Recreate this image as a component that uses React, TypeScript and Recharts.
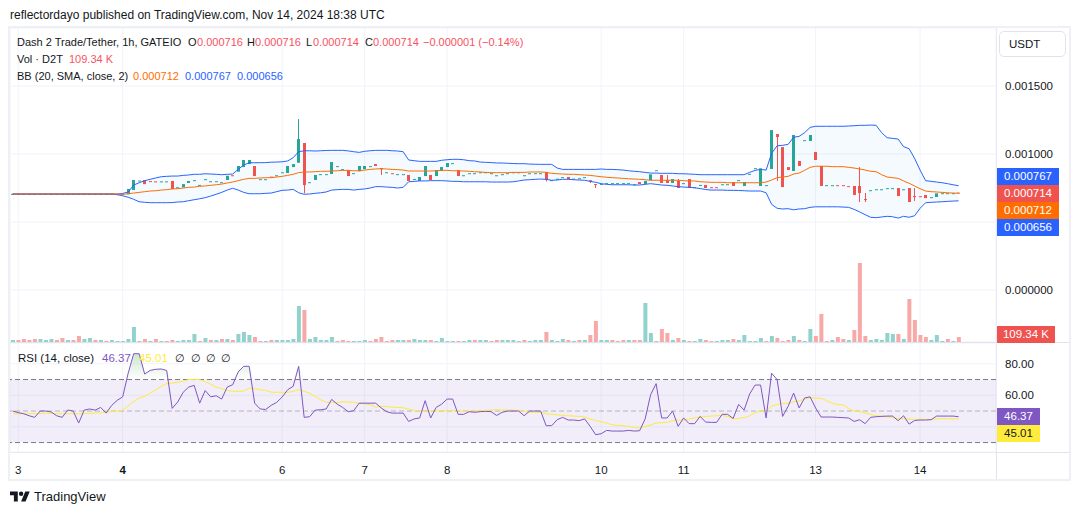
import {
  ComposedChart, Bar, Line, Area, Cell, XAxis, YAxis, CartesianGrid, ReferenceArea, ReferenceLine,
} from 'recharts';

// prices are kept in millionths of a USDT
const opens = [
  706, 707, 706, 705, 706, 706, 707, 706, 706, 705, 706, 706, 707, 706, 705, 706, 706, 707, 706, 706, 706,
  704, 735, 803, 809, 801, 799, 797, 797, 802, 754,
  755, 787, 806, 771, 813, 798, 798, 791, 809, 844,
  870, 904, 926, 912, 813, 813, 834, 842, 864, 860,
  904, 936, 1081, 791, 809, 850, 850, 853, 909, 887,
  882, 857, 873, 888, 909, 926, 897, 864, 859, 850,
  850, 846, 815, 802, 838, 846, 838, 875, 904, 931,
  882, 842, 857, 857, 864, 864, 857, 842, 850, 857,
  864, 864, 842, 857, 857, 857, 868, 806, 817, 828,
  831, 817, 820, 828, 807, 779, 778, 784, 784, 784,
  784, 784, 776, 794, 779, 807, 879, 846, 809, 787,
  802, 784, 816, 754, 771, 772, 756, 756, 776, 776,
  794, 806, 765, 852, 894, 765, 769, 890, 1147, 1051,
  904, 875, 949, 1100, 1096, 1015, 912, 769, 769, 771,
  771, 764, 765, 765, 669, 732, 739, 739, 747, 747,
  750, 739, 750, 691, 690, 699, 681, 684, 710, 710, 710, 716,
];
const closes = [
  707, 706, 705, 706, 706, 707, 706, 706, 705, 706, 706, 707, 706, 705, 706, 706, 707, 706, 706, 706, 708,
  743, 809, 805, 779, 799, 797, 799, 799, 743, 756,
  779, 802, 808, 773, 815, 800, 800, 793, 840, 842,
  912, 956, 956, 838, 815, 815, 832, 844, 866, 912,
  926, 1110, 772, 793, 846, 852, 852, 941, 911, 889,
  838, 859, 912, 912, 911, 912, 888, 866, 857, 852,
  852, 802, 817, 831, 912, 809, 882, 904, 934, 933,
  838, 844, 859, 859, 866, 866, 859, 844, 852, 859,
  866, 866, 844, 859, 859, 859, 809, 808, 819, 830,
  816, 819, 822, 830, 796, 772, 780, 786, 786, 786,
  786, 786, 778, 779, 802, 851, 881, 787, 787, 816,
  750, 786, 750, 756, 773, 750, 754, 754, 778, 778,
  765, 808, 794, 854, 896, 895, 771, 1176, 1125, 757,
  882, 1140, 912, 1102, 1140, 956, 765, 771, 771, 769,
  769, 762, 699, 713, 662, 734, 741, 741, 749, 749,
  691, 741, 647, 684, 688, 676, 683, 711, 712, 712, 712, 714,
];
// only the candles that have a wick beyond their body
const upperWicks: Record<number, number> = { 52: 1257, 119: 846, 121: 816, 154: 904, 155: 713, 164: 750 };
const lowerWicks: Record<number, number> = { 53: 711, 67: 846, 97: 799, 105: 787, 106: 750, 139: 802, 154: 647, 155: 647, 164: 654 };

const bbUpper = [
  706, 706, 706, 706, 706, 706, 706, 706, 706, 706, 706, 706, 706, 706, 706, 706, 706, 706, 706, 706,
  710, 721, 772, 789, 804, 814, 824, 833, 836, 838,
  838, 843, 846, 851, 851, 855, 853, 851, 848, 851,
  853, 887, 919, 936, 936, 936, 937, 940, 941, 943,
  949, 973, 1017, 1024, 1024, 1022, 1024, 1026, 1027, 1027,
  1027, 1023, 1017, 1012, 1020, 1024, 1027, 1027, 1027, 1024,
  1022, 1017, 956, 951, 946, 946, 946, 946, 954, 958,
  961, 961, 958, 951, 949, 941, 939, 937, 934, 934,
  932, 930, 929, 929, 926, 925, 924, 924, 924, 897,
  887, 887, 887, 887, 887, 887, 887, 890, 887, 887,
  885, 882, 877, 873, 870, 865, 860, 860, 858, 858,
  858, 855, 855, 853, 851, 848, 848, 848, 848, 848,
  848, 848, 848, 848, 865, 880, 887, 882, 1005, 1061,
  1064, 1071, 1123, 1130, 1157, 1196, 1204, 1204, 1204, 1204,
  1204, 1204, 1206, 1208, 1211, 1211, 1213, 1211, 1157, 1120,
  1115, 1110, 1054, 1039, 968, 882, 804, 799, 794, 789,
  782, 774, 767,
];
const bbBasis = [
  706, 706, 706, 706, 706, 706, 706, 706, 706, 706, 706, 706, 706, 706, 706, 706, 706, 706, 706, 706,
  704, 708, 713, 718, 723, 728, 730, 735, 738, 743,
  745, 750, 755, 757, 763, 765, 770, 774, 779, 787,
  794, 804, 814, 821, 821, 824, 826, 826, 831, 836,
  843, 851, 863, 868, 868, 870, 873, 873, 875, 877,
  880, 880, 877, 877, 882, 887, 890, 892, 890, 887,
  885, 882, 875, 875, 875, 875, 875, 877, 880, 880,
  877, 877, 875, 873, 870, 868, 865, 863, 863, 863,
  863, 865, 865, 865, 868, 868, 868, 865, 858, 855,
  853, 851, 851, 848, 846, 843, 838, 833, 829, 826,
  824, 821, 818, 816, 814, 811, 807, 807, 807, 807,
  807, 807, 804, 802, 802, 796, 794, 792, 792, 792,
  789, 789, 789, 789, 789, 789, 789, 794, 809, 826,
  831, 836, 853, 860, 880, 902, 910, 910, 910, 907,
  907, 907, 902, 897, 890, 882, 873, 870, 848, 831,
  826, 821, 802, 785, 765, 745, 728, 723, 721, 718,
  715, 713, 712,
];
const bbLower = [
  706, 706, 706, 706, 706, 706, 706, 706, 706, 706, 706, 706, 706, 706, 706, 706, 706, 706, 706, 701,
  693, 682, 667, 649, 645, 642, 642, 642, 642, 643,
  647, 649, 657, 664, 671, 679, 691, 704, 718, 735,
  748, 735, 718, 708, 708, 708, 711, 713, 723, 733,
  735, 740, 715, 704, 706, 711, 715, 721, 735, 738,
  740, 740, 735, 740, 743, 750, 760, 760, 757, 755,
  750, 755, 796, 799, 802, 802, 804, 804, 804, 802,
  799, 799, 796, 796, 796, 796, 796, 794, 794, 794,
  794, 796, 802, 809, 811, 814, 816, 814, 807, 809,
  814, 814, 811, 809, 807, 799, 792, 782, 777, 774,
  774, 774, 774, 772, 772, 777, 782, 777, 772, 770,
  765, 760, 757, 755, 752, 746, 739, 735, 735, 735,
  733, 733, 732, 730, 728, 728, 728, 715, 630, 601,
  596, 598, 590, 596, 598, 608, 612, 612, 612, 612,
  612, 610, 608, 593, 574, 554, 535, 532, 537, 542,
  539, 529, 542, 535, 546, 601, 642, 645, 647, 649,
  652, 654, 656,
];

// thousands of D2T
const volumes = [
  44, 44, 66, 44, 66, 66, 44, 66, 44, 88, 44, 44, 132, 66, 88, 44, 44, 22, 44, 22,
  22, 66, 330, 22, 66, 22, 66, 22, 22, 44, 22, 44, 44, 176, 22, 88, 44, 44, 66, 66,
  44, 176, 220, 154, 110, 22, 22, 44, 44, 44, 44, 66, 792, 704, 66, 110, 44, 44, 110, 22,
  44, 22, 22, 22, 44, 22, 66, 110, 22, 44, 44, 44, 44, 66, 44, 44, 44, 22, 88, 22,
  22, 22, 22, 44, 44, 44, 44, 22, 44,
  44, 44, 44, 22, 44, 22, 44, 44, 220, 44, 22, 66, 44, 22, 44, 44, 154, 462, 44, 44,
  44, 22, 44, 44, 44, 44, 858, 198, 22, 286, 198, 44, 88, 44, 22, 22, 66, 44, 22, 22,
  44, 44, 66, 44, 154, 22, 22, 88, 22, 132, 88, 22, 44, 132, 44, 22, 286, 132, 616, 22,
  44, 110, 66, 44, 264, 1738, 132, 44, 66, 44, 198, 176, 176, 66, 946, 484, 154, 110, 44, 154,
  22, 66, 22, 109.34,
];
const volumeSides = [
  'u','d','d','d','d','u','u','u','d','d','u','d','d','u','u','d','u','d','u','u',
  'u','u','u','u','d','u','d','u','d','d','u','u','u','u','d','u','d','u','d','u',
  'd','u','u','u','d','d','u','d','u','u','u','u','u','d','u','u','u','u','u','d',
  'd','d','u','u','u','d','d','d','d','d','u','u','d','u','u','u','d','u','u','u',
  'u','d','u','u','d','u','u','d','d',
  'u','u','u','u','d','u','u','u','d','u','u','u','d','u','d','u','d','d','u','u',
  'd','d','d','u','d','d','u','u','u','d','d','u','d','u','d','u','u','d','d','u',
  'u','u','d','u','u','u','u','u','d','u','d','d','d','u','d','u','u','d','d','d',
  'u','d','d','u','d','d','d','u','u','u','u','u','d','u','d','d','d','d','u','u',
  'u','d','u','d',
];

const rsi = [
  50, 49, 48.3, 47, 46, 50, 50, 49.4, 47, 46, 50.6, 50, 42.4, 50.6, 51.3, 50.6, 52.3, 48.7, 53.6, 56.8,
  59, 74, 86.4, 86.4, 73.5, 75.8, 76.5, 76.7, 75.8, 51.7, 55.7, 61.9, 65.2, 66.3, 55, 63, 59, 59.7, 57.6, 65.2,
  66.7, 74.8, 78.4, 78.4, 55, 51.3, 51, 53.6, 55.5, 58.9, 63.5, 65.7, 78.4, 46, 46.4, 50.6, 50.8, 51.3, 57.4, 54.4,
  52.3, 49.6, 50.2, 55, 55, 55, 55, 52, 49.6, 48.7, 48.7, 48.7, 43.4, 45, 45.6, 56.6, 45.6, 52.3, 54.4, 57.6,
  57.6, 47.9, 47.9, 49.6, 49.2, 49.6, 49.8, 49.6, 47.2, 49.2, 50, 50, 50, 47, 50, 50, 50, 40.7, 40.7, 44.5,
  46, 44.3, 44.3, 43.9, 45, 40.3, 35, 35.6, 37.7, 37.3, 37.3, 37.3, 37.7, 37.3, 37.5, 45, 60.4, 67.4, 45.6, 45.6,
  50, 40.3, 45.6, 42, 42, 46.6, 43, 42.8, 42.8, 47.9, 47.9, 45.3, 54.2, 50.6, 60.8, 66.5, 66.5, 45.6, 74, 70,
  46.6, 53, 61.4, 52, 58.3, 59, 51.9, 46.2, 46.2, 46.2, 46, 45.8, 45.6, 43.4, 44.5, 42, 46, 46.4, 46.6, 46.8,
  46.8, 43.9, 47, 41.7, 44, 44.3, 44.3, 44.5, 46.8, 46.8, 46.8, 46.8, 46.37,
];
const rsiMa = [
  48.3, 48.3, 48.3, 48.3, 48.3, 48.3, 48.5, 48.5, 48.3, 48.3, 48.3, 48.3, 48.3, 48.3, 48.5, 48.7, 48.9, 49.4, 49.6, 50,
  50.4, 53.4, 56, 58.3, 59.3, 61.4, 63.5, 65.7, 67.4, 67.8, 68.2, 69, 70, 70.1, 70, 68.6, 67.1, 65.2, 64.2, 63.1,
  62.5, 62.5, 62.7, 64.6, 64.2, 63.5, 63.1, 62, 61.9, 61.9, 61.9, 62.5, 63.5, 62.5, 61.4, 59.3, 57.2, 55.5, 55.7, 55.3,
  55.9, 55.7, 55.5, 55, 54.7, 54, 52.5, 53, 52.8, 52.5, 52.3, 52.1, 51.3, 50.4, 50.2, 50, 49.8, 50, 50.2, 50.2,
  50.4, 50, 49.8, 49.8, 50, 50.2, 50.4, 50.6, 50.8, 50.6, 50.6, 50.6, 50.4, 49.6, 49.2, 49.2, 49.2, 48.3, 47.9, 47.7,
  47.2, 47, 46.8, 46.6, 46.2, 44.9, 44, 43.2, 42.4, 41.3, 40.9, 40.7, 40.3, 39.6, 39.2, 40.3, 41.1, 42.4, 42.6, 42.8,
  43.9, 44.3, 44.3, 44.9, 45.6, 46.2, 46.6, 46.8, 47, 47.2, 46.6, 45.1, 45.3, 45.8, 47, 48.9, 50, 50.2, 53, 54.2,
  54.7, 55, 55.9, 56.3, 57.6, 58.5, 58.3, 58, 56.6, 55, 54, 54, 51.5, 50, 49.8, 48.7, 47.9, 47, 46.8, 46.4,
  46, 45.3, 45.1, 44.9, 44.7, 44.7, 44.7, 44.7, 45, 45.2, 45.1, 45.05, 45.01,
];

const dayTicks = [1, 20, 49, 64, 79, 107, 122, 146, 165];
const dayLabels = ['3', '4', '6', '7', '8', '10', '11', '13', '14'];
const priceTicks = [0, 0.0005, 0.001, 0.0015];
const rsiTicks = [40, 60, 80];

const UP = '#26a69a';
const DOWN = '#ef5350';
const INK = '#131722';
const FONT = '"Liberation Sans", Arial, sans-serif';
const X_DOMAIN: [number, number] = [-0.49, 178.8];
const tickStyle = { fill: INK, fontSize: 11.5, fontFamily: FONT };

const u = (v: number) => v / 1e6;

const rows = closes.map((c, i) => {
  const open = opens[i];
  const high = Math.max(open, c, upperWicks[i] ?? 0);
  const low = Math.min(open, c, lowerWicks[i] ?? Infinity);
  return {
    t: i,
    open: u(open),
    close: u(c),
    high: u(high),
    low: u(low),
    range: [u(low), u(high)],
    bbRange: [u(bbLower[i]), u(bbUpper[i])],
    upper: u(bbUpper[i]),
    basis: u(bbBasis[i]),
    lower: u(bbLower[i]),
    volume: volumes[i],
    side: volumeSides[i],
    rsi: rsi[i],
    rsiMa: rsiMa[i],
    overbought: [70, Math.max(70, rsi[i])],
  };
});

function Candle(props: any) {
  const { x, y, width, height, payload } = props;
  const { open, close, high, low } = payload;
  const color = close >= open ? UP : DOWN;
  const k = high > low ? height / (high - low) : 0;
  const top = y + (high - Math.max(open, close)) * k;
  const bodyH = Math.max(1, Math.abs(open - close) * k);
  const cx = Math.floor(x + width / 2) + 0.5;
  return (
    <g>
      {height > bodyH && <rect x={cx - 0.5} y={y} width={1} height={height} fill={color} />}
      <rect x={cx - 1.5} y={top} width={3} height={bodyH} fill={color} />
    </g>
  );
}

function DayTick(props: any) {
  const { x, y, payload } = props;
  const label = dayLabels[dayTicks.indexOf(payload.value)];
  return (
    <text x={x} y={y + 11} textAnchor="middle" fill={INK} fontSize={11.5} fontFamily={FONT} fontWeight={label === '4' ? 700 : 400}>
      {label}
    </text>
  );
}

const abs = (left: number, top: number, extra: React.CSSProperties = {}): React.CSSProperties => ({
  position: 'absolute', left, top, whiteSpace: 'nowrap', ...extra,
});

function Txt({ x, y, color = INK, size = 11, children }: { x: number; y: number; color?: string; size?: number; children: any }) {
  return <div style={abs(x, y, { color, fontSize: size, lineHeight: '16px' })}>{children}</div>;
}

function Tag({ y, w, bg, color = '#fff', children }: { y: number; w: number; bg: string; color?: string; children: any }) {
  return (
    <div style={abs(997, y, { width: w, height: 17, background: bg, color, fontSize: 11.5, lineHeight: '17px', textAlign: 'center', zIndex: 3 })}>
      {children}
    </div>
  );
}

export default function App() {
  return (
    <div style={{ position: 'absolute', left: 0, top: 0, width: 1080, height: 515, background: '#fff', fontFamily: FONT, overflow: 'hidden' }}>
      <div style={abs(10, 7, { color: INK, fontSize: 12, lineHeight: '16px' })}>
        reflectordayo published on TradingView.com, Nov 14, 2024 18:38 UTC
      </div>

      {/* frame and pane separators */}
      <div style={abs(8, 26, { width: 1063, height: 455, boxSizing: 'border-box', border: '2px solid #eef0f6' })} />
      <div style={abs(10, 342, { width: 1059, height: 1, background: '#e0e3eb' })} />
      <div style={abs(10, 452, { width: 1059, height: 1, background: '#e0e3eb' })} />
      <div style={abs(996, 28, { width: 1, height: 451, background: '#e0e3eb' })} />

      <div style={abs(10, 28)}>
        <ComposedChart width={1058} height={314} data={rows} barGap={-4} margin={{ top: 0, right: 0, bottom: 0, left: 0 }}>
          <CartesianGrid stroke="#f0f3fa" />
          <XAxis dataKey="t" type="number" domain={X_DOMAIN} ticks={dayTicks} interval={0} allowDataOverflow hide />
          <YAxis
            orientation="right"
            width={72}
            domain={[-0.000382, 0.0019265]}
            ticks={priceTicks}
            interval={0}
            allowDataOverflow
            axisLine={false}
            tickLine={false}
            tickMargin={3}
            tick={tickStyle}
            tickFormatter={(v: number) => (v === 0.0005 ? '' : v.toFixed(6))}
          />
          <YAxis yAxisId="vol" hide domain={[0, 6908]} allowDataOverflow />
          <Bar yAxisId="vol" dataKey="volume" barSize={4} isAnimationActive={false}>
            {rows.map((r) => (
              <Cell key={r.t} fill={r.side === 'u' ? '#92d2cc' : '#f7a9a7'} />
            ))}
          </Bar>
          <Area dataKey="bbRange" stroke="none" fill="#2196f3" fillOpacity={0.05} dot={false} activeDot={false} isAnimationActive={false} />
          <Line dataKey="upper" stroke="#2962ff" strokeWidth={1} dot={false} activeDot={false} isAnimationActive={false} />
          <Line dataKey="lower" stroke="#2962ff" strokeWidth={1} dot={false} activeDot={false} isAnimationActive={false} />
          <Line dataKey="basis" stroke="#ff6d00" strokeWidth={1} dot={false} activeDot={false} isAnimationActive={false} />
          <Bar dataKey="range" barSize={4} shape={Candle} isAnimationActive={false} />
        </ComposedChart>
      </div>

      <div style={abs(10, 343)}>
        <ComposedChart width={1058} height={136} data={rows} margin={{ top: 0, right: 0, bottom: 0, left: 0 }}>
          <defs>
            <linearGradient id="obFill" x1="0" y1="0" x2="0" y2="1">
              <stop offset="0%" stopColor="#66bb6a" stopOpacity={0.55} />
              <stop offset="100%" stopColor="#66bb6a" stopOpacity={0} />
            </linearGradient>
          </defs>
          <CartesianGrid stroke="#f0f3fa" />
          <XAxis
            dataKey="t"
            type="number"
            domain={X_DOMAIN}
            ticks={dayTicks}
            interval={0}
            allowDataOverflow
            height={27}
            axisLine={false}
            tickLine={false}
            tickMargin={5}
            tick={DayTick}
          />
          <YAxis
            orientation="right"
            width={72}
            domain={[24, 93.2]}
            ticks={rsiTicks}
            interval={0}
            allowDataOverflow
            axisLine={false}
            tickLine={false}
            tickMargin={3}
            tick={tickStyle}
            tickFormatter={(v: number) => (v === 40 ? '' : v.toFixed(2))}
          />
          <ReferenceArea y1={30} y2={70} fill="#7e57c2" fillOpacity={0.1} stroke="none" />
          <ReferenceLine y={70} stroke="#787b86" strokeDasharray="5 3" />
          <ReferenceLine y={50} stroke="#787b86" strokeOpacity={0.5} strokeDasharray="5 3" />
          <ReferenceLine y={30} stroke="#787b86" strokeDasharray="5 3" />
          <Area dataKey="overbought" stroke="none" fill="url(#obFill)" dot={false} activeDot={false} isAnimationActive={false} />
          <Line dataKey="rsiMa" stroke="#ffeb3b" strokeWidth={1} dot={false} activeDot={false} isAnimationActive={false} />
          <Line dataKey="rsi" stroke="#7e57c2" strokeWidth={1} dot={false} activeDot={false} isAnimationActive={false} />
        </ComposedChart>
      </div>

      {/* legend rows */}
      <Txt x={17} y={34}>Dash 2 Trade/Tether, 1h, GATEIO</Txt>
      <Txt x={188} y={34}>O</Txt><Txt x={197} y={34} color="#f7525f">0.000716</Txt>
      <Txt x={247} y={34}>H</Txt><Txt x={255} y={34} color="#f7525f">0.000716</Txt>
      <Txt x={306} y={34}>L</Txt><Txt x={313} y={34} color="#f7525f">0.000714</Txt>
      <Txt x={365} y={34}>C</Txt><Txt x={373} y={34} color="#f7525f">0.000714</Txt>
      <Txt x={423} y={34} color="#f7525f">−0.000001 (−0.14%)</Txt>
      <Txt x={17} y={51}>Vol · D2T</Txt><Txt x={69} y={51} color="#f7525f">109.34 K</Txt>
      <Txt x={17} y={68}>BB (20, SMA, close, 2)</Txt>
      <Txt x={133} y={68} color="#ff6d00">0.000712</Txt>
      <Txt x={185} y={68} color="#2962ff">0.000767</Txt>
      <Txt x={237} y={68} color="#2962ff">0.000656</Txt>
      <Txt x={18} y={350} size={11.5}>RSI (14, close)</Txt>
      <Txt x={102} y={350} size={11.5} color="#7e57c2">46.37</Txt>
      <Txt x={139} y={350} size={11.5} color="#ffeb3b">45.01</Txt>
      <Txt x={175} y={350}>∅</Txt><Txt x={191} y={350}>∅</Txt><Txt x={206} y={350}>∅</Txt><Txt x={221} y={350}>∅</Txt>

      {/* currency button */}
      <div style={abs(999, 31, { width: 67, height: 26, boxSizing: 'border-box', border: '1px solid #e0e3eb', borderRadius: 5, fontSize: 11.5, lineHeight: '24px', paddingLeft: 9, color: INK, background: '#fff' })}>
        USDT
      </div>

      {/* last value tags */}
      <Tag y={168} w={62} bg="#2962ff">0.000767</Tag>
      <Tag y={185} w={62} bg="#ef5350">0.000714</Tag>
      <Tag y={202} w={62} bg="#ff6d00">0.000712</Tag>
      <Tag y={219} w={62} bg="#2962ff">0.000656</Tag>
      <Tag y={326} w={58} bg="#ef5350">109.34 K</Tag>
      <Tag y={408} w={43} bg="#7e57c2">46.37</Tag>
      <Tag y={425} w={43} bg="#ffeb3b" color={INK}>45.01</Tag>

      {/* footer logo */}
      <svg style={abs(10, 489)} width={20} height={16} viewBox="0 0 36 28">
        <path d="M14 22H7V11H0V4h14v18zM28 22h-8l7.5-18h8L28 22z" fill={INK} />
        <circle cx="20" cy="8" r="4" fill={INK} />
      </svg>
      <div style={abs(34, 489, { fontSize: 13, lineHeight: '16px', color: INK })}>TradingView</div>
    </div>
  );
}
